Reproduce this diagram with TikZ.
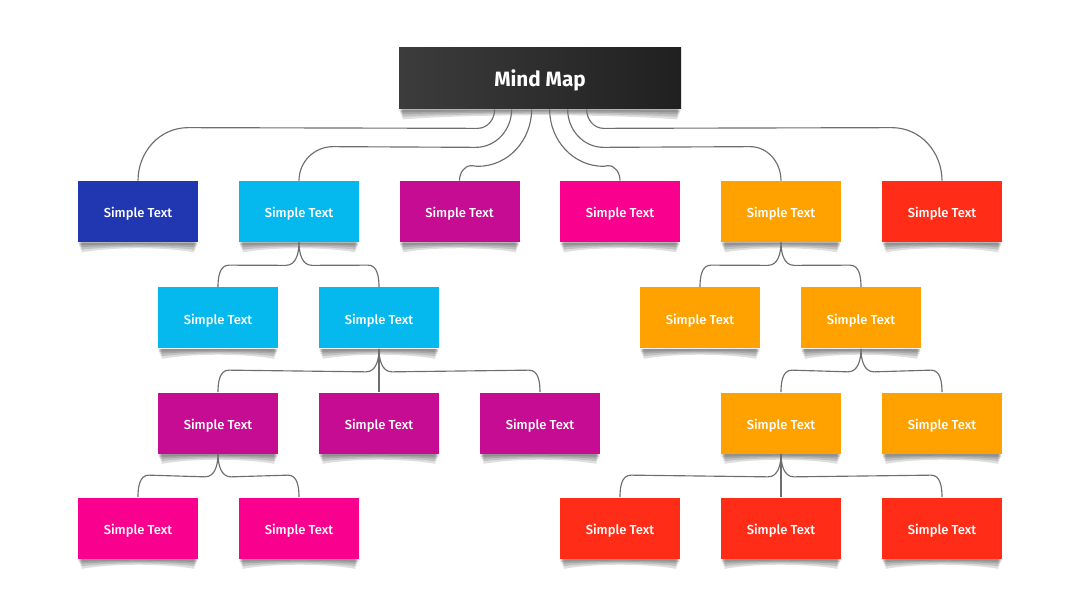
\documentclass[tikz,border=0pt]{standalone}
\usepackage{fontspec}
\setmainfont{Fira Sans}[BoldFont={Fira Sans Medium}]
\newfontfamily\titlefont{Fira Sans Bold}
\usetikzlibrary{calc,backgrounds}
\definecolor{cblue}{HTML}{2137B2}
\definecolor{ccyan}{HTML}{05B9EF}
\definecolor{cpurple}{HTML}{C50C93}
\definecolor{cpink}{HTML}{F9008E}
\definecolor{corange}{HTML}{FFA200}
\definecolor{cred}{HTML}{FF2D18}
\definecolor{cdarkL}{HTML}{3C3C3C}
\definecolor{cdarkR}{HTML}{202020}
\definecolor{cline}{HTML}{6E6E6E}
\tikzset{
  box/.style={rectangle, minimum width=120*0.02cm, minimum height=61*0.02cm,
    inner sep=0pt, text=white, text height=7pt, text depth=0pt,
    font=\bfseries\fontsize{7.4}{9}\selectfont},
  titlebox/.style={rectangle, minimum width=282*0.02cm, minimum height=61*0.02cm,
    inner sep=0pt, text=white, left color=cdarkL, right color=cdarkR,
    text height=9.2pt, text depth=0pt,
    font=\titlefont\fontsize{11.8}{14}\selectfont},
  conn/.style={draw=cline, line width=0.65pt},
  shadowlayer/.style={fill=black, opacity=0.13}
}
\newcommand\shadowof[1]{%
  \foreach \d/\m/\i in {3/1.5/1,5/2.5/2,7.5/3.5/3,10/4.5/4}{%
    \fill[shadowlayer] ($(#1.south west)+(\i,0)$) -- ($(#1.south east)+(-\i,0)$)
      -- ($(#1.south east)+(-\i,\d)$)
      .. controls ($(#1.south)+(25,\m)$) and ($(#1.south)+(-25,\m)$) ..
      ($(#1.south west)+(\i,\d)$) -- cycle;}}
\newcommand\branch[3]{%
  \draw[conn] (#1.south) to[out=-90,in={90+#3*90}] ($(#1.south)+(#3*13,23)$)
    -- ($(#2.north)+(-#3*11,-22)$) to[out={90-#3*90},in=90] (#2.north);}
\begin{document}
\begin{tikzpicture}[x=0.02cm,y=-0.02cm]
\useasboundingbox (0,0) rectangle (1080,608);
% title
\node[titlebox] (mm) at (540,78.5) {Mind Map};
% row 1
\node[box, fill=cblue]   (a1) at (138,211.5) {Simple Text};
\node[box, fill=ccyan]   (a2) at (299,211.5) {Simple Text};
\node[box, fill=cpurple] (a3) at (459.5,211.5) {Simple Text};
\node[box, fill=cpink]   (a4) at (620,211.5) {Simple Text};
\node[box, fill=corange] (a5) at (781,211.5) {Simple Text};
\node[box, fill=cred]    (a6) at (942,211.5) {Simple Text};
% row 2
\node[box, fill=ccyan]   (b1) at (218,318) {Simple Text};
\node[box, fill=ccyan]   (b2) at (379,318) {Simple Text};
\node[box, fill=corange] (b3) at (700,318) {Simple Text};
\node[box, fill=corange] (b4) at (861,318) {Simple Text};
% row 3
\node[box, fill=cpurple] (c1) at (218,423) {Simple Text};
\node[box, fill=cpurple] (c2) at (379,423) {Simple Text};
\node[box, fill=cpurple] (c3) at (540,423) {Simple Text};
\node[box, fill=corange] (c4) at (781,423) {Simple Text};
\node[box, fill=corange] (c5) at (942,423) {Simple Text};
% row 4
\node[box, fill=cpink] (d1) at (138,528) {Simple Text};
\node[box, fill=cpink] (d2) at (299,528) {Simple Text};
\node[box, fill=cred]  (d3) at (620,528) {Simple Text};
\node[box, fill=cred]  (d4) at (781,528) {Simple Text};
\node[box, fill=cred]  (d5) at (942,528) {Simple Text};
% shadows
\begin{scope}[on background layer]
\fill[white] (0,0) rectangle (1080,608);
\foreach \n in {a1,a2,a3,a4,a5,a6,b1,b2,b3,b4,c1,c2,c3,c4,c5,d1,d2,d3,d4,d5}{\shadowof{\n}}
\foreach \d/\m/\i in {3/1.5/1,5/2.5/2,7.5/3.5/3,10/4.5/4}{%
  \fill[shadowlayer] ($(mm.south west)+(\i,0)$) -- ($(mm.south east)+(-\i,0)$)
    -- ($(mm.south east)+(-\i,\d)$)
    .. controls ($(mm.south)+(60,\m)$) and ($(mm.south)+(-60,\m)$) ..
    ($(mm.south west)+(\i,\d)$) -- cycle;}
\end{scope}
% start points on title box
\coordinate (s1) at ($(mm.south west)+(96,0)$);
\coordinate (s2) at ($(mm.south west)+(113,0)$);
\coordinate (s3) at ($(mm.south west)+(133,0)$);
\coordinate (s4) at ($(mm.south west)+(151,0)$);
\coordinate (s5) at ($(mm.south west)+(169,0)$);
\coordinate (s6) at ($(mm.south west)+(188,0)$);
\draw[conn] (s1) to[out=-90,in=0] ($(s1)+(-17,19)$) -- ($(a1.north)+(50,-53)$) to[out=180,in=90] (a1.north);
\draw[conn] (s2) to[out=-90,in=0] ($(s2)+(-36,38)$) -- ($(a2.north)+(34,-34)$) to[out=180,in=90] (a2.north);
\draw[conn] (s3) to[out=-90,in=0] ($(s3)+(-54,57)$) -- ($(a3.north)+(12,-15)$) to[out=180,in=90] (a3.north);
\draw[conn] (s4) to[out=-90,in=180] ($(s4)+(54,57)$) -- ($(a4.north)+(-12,-15)$) to[out=0,in=90] (a4.north);
\draw[conn] (s5) to[out=-90,in=180] ($(s5)+(36,38)$) -- ($(a5.north)+(-31,-34)$) to[out=0,in=90] (a5.north);
\draw[conn] (s6) to[out=-90,in=180] ($(s6)+(17,19)$) -- ($(a6.north)+(-50,-53)$) to[out=0,in=90] (a6.north);
% sub-branches
\branch{a2}{b1}{-1}
\branch{a2}{b2}{1}
\branch{b2}{c1}{-1}
\draw[conn] (b2.south) -- (c2.north);
\branch{b2}{c3}{1}
\branch{c1}{d1}{-1}
\branch{c1}{d2}{1}
\branch{a5}{b3}{-1}
\branch{a5}{b4}{1}
\branch{b4}{c4}{-1}
\branch{b4}{c5}{1}
\branch{c4}{d3}{-1}
\draw[conn] (c4.south) -- (d4.north);
\branch{c4}{d5}{1}
\end{tikzpicture}
\end{document}
